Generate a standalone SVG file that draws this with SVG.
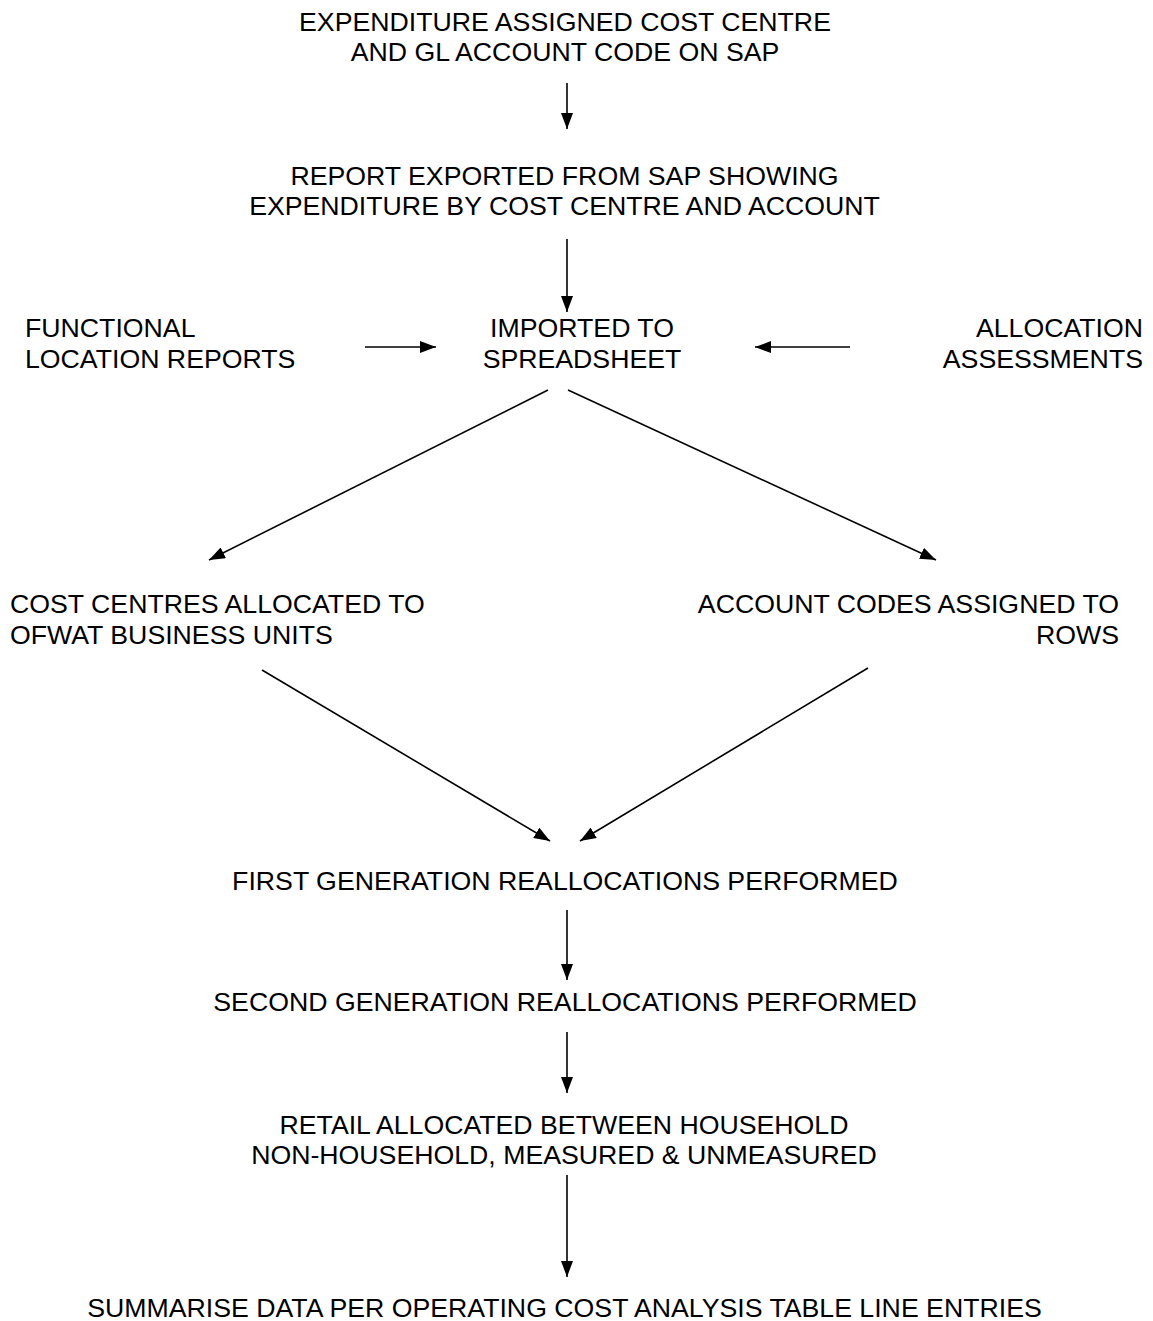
<svg xmlns="http://www.w3.org/2000/svg" width="1153" height="1321" viewBox="0 0 1153 1321">
<defs>
<marker id="ah" viewBox="0 0 16 12" refX="16" refY="6" markerWidth="16" markerHeight="12" markerUnits="userSpaceOnUse" orient="auto">
<path d="M0,0 L16,6 L0,12 Z" fill="#000"/>
</marker>
</defs>
<style>
text{font-family:"Liberation Sans",Arial,sans-serif;font-size:26.7px;fill:#000}
.c{text-anchor:middle}
.e{text-anchor:end}
line{stroke:#000;stroke-width:1.6;marker-end:url(#ah)}
</style>
<rect width="1153" height="1321" fill="#fff"/>
<g id="n1"><text class="c" x="565" y="31">EXPENDITURE ASSIGNED COST CENTRE</text><text class="c" x="565" y="61">AND GL ACCOUNT CODE ON SAP</text></g>
<g id="n2"><text class="c" x="564.5" y="185">REPORT EXPORTED FROM SAP SHOWING</text><text class="c" x="564.5" y="215">EXPENDITURE BY COST CENTRE AND ACCOUNT</text></g>
<g id="n3"><text class="c" x="582" y="337">IMPORTED TO</text><text class="c" x="582" y="368">SPREADSHEET</text></g>
<g id="n4"><text x="25" y="337">FUNCTIONAL</text><text x="25" y="368">LOCATION REPORTS</text></g>
<g id="n5"><text class="e" x="1143" y="337">ALLOCATION</text><text class="e" x="1143" y="368">ASSESSMENTS</text></g>
<g id="n6"><text x="10" y="613">COST CENTRES ALLOCATED TO</text><text x="10" y="644">OFWAT BUSINESS UNITS</text></g>
<g id="n7"><text class="e" x="1119" y="613">ACCOUNT CODES ASSIGNED TO</text><text class="e" x="1119" y="644">ROWS</text></g>
<g id="n8"><text class="c" x="565" y="890">FIRST GENERATION REALLOCATIONS PERFORMED</text></g>
<g id="n9"><text class="c" x="565" y="1011">SECOND GENERATION REALLOCATIONS PERFORMED</text></g>
<g id="n10"><text class="c" x="564" y="1134">RETAIL ALLOCATED BETWEEN HOUSEHOLD</text><text class="c" x="564" y="1164">NON-HOUSEHOLD, MEASURED &amp; UNMEASURED</text></g>
<g id="n11"><text class="c" x="564.5" y="1317">SUMMARISE DATA PER OPERATING COST ANALYSIS TABLE LINE ENTRIES</text></g>
<g id="connectors">
<line x1="567" y1="83" x2="567" y2="129"/>
<line x1="567" y1="239" x2="567" y2="312"/>
<line x1="365" y1="347" x2="436" y2="347"/>
<line x1="850" y1="347" x2="755" y2="347"/>
<line x1="548" y1="390" x2="209" y2="560"/>
<line x1="568" y1="390" x2="936" y2="560"/>
<line x1="262" y1="670" x2="550" y2="841"/>
<line x1="868" y1="668" x2="580" y2="841"/>
<line x1="567" y1="910" x2="567" y2="980"/>
<line x1="567" y1="1032" x2="567" y2="1093"/>
<line x1="567" y1="1175" x2="567" y2="1277"/>
</g>
</svg>
